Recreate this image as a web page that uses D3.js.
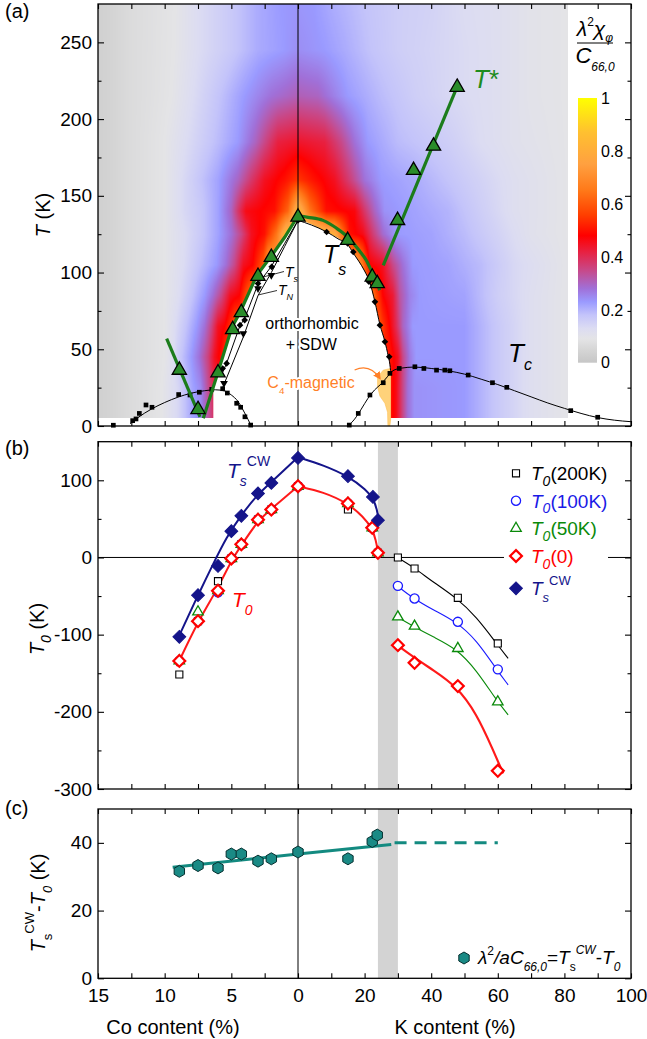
<!DOCTYPE html>
<html><head><meta charset="utf-8">
<script src="https://cdn.jsdelivr.net/npm/d3@7"></script>
<style>
body{margin:0;background:#fff}
svg{display:block}
text{font-family:"Liberation Sans",Arial,Helvetica,sans-serif}
</style></head>
<body><svg id="c" width="647" height="1039"></svg>
<script>
// ---------------- DATA (x: negative = Co content %, positive = K content %) ----------------
const xTicks = [-15,-12.5,-10,-7.5,-5,-2.5,0,10,20,30,40,50,60,70,80,90,100];
const xTickLabels = [-15,-10,-5,0,20,40,60,80,100];
const yATicks = [0,50,100,150,200,250], yAMinor = [25,75,125,175,225];
const yBTicks = [-300,-200,-100,0,100], yBMinor = [-250,-150,-50,50];
const yCTicks = [0,20,40];
const cbTicks = [0,0.2,0.4,0.6,0.8,1];

// colour map of lambda^2 chi / C66,0
const cmapVals = [0,0.05,0.09,0.13,0.18,0.23,0.28,0.35,0.42,0.48,0.56,0.65,0.75,0.87,1];
const cmapCols = ["#c6c6c6","#d6d6d6","#e4e4e6","#dcdcf2","#c4c4fa","#9a9aff","#a070d8","#c84888","#e82040","#ff0000","#ff4000","#ff7818","#ffa040","#ffc030","#ffff00"];

// heat-map rows (temperature) with stops [content, value]
const heatT = [5,25,45,65,85,105,125,140,160,185,215,245,275];
const heatStops = [
 [[-15,0.03],[-12.5,0.065],[-10.2,0.09],[-9,0.14],[-8.5,0.18],[-7.9,0.22],[-7.3,0.25],[-6.8,0.32],[-6.35,0.38],[0,0.4],[27.8,0.5],[29.5,0.46],[31.5,0.35],[33,0.28],[35,0.24],[50,0.23],[60,0.17],[70,0.12],[82,0.09]],
 [[-15,0.03],[-12.5,0.065],[-10.2,0.09],[-9,0.14],[-8.5,0.18],[-7.9,0.22],[-7.3,0.25],[-6.8,0.33],[-6.35,0.4],[0,0.4],[27.8,0.5],[29.5,0.46],[31.5,0.35],[33,0.28],[35,0.24],[50,0.23],[60,0.17],[70,0.12],[82,0.09]],
 [[-15,0.03],[-12.5,0.065],[-10,0.09],[-9.4,0.12],[-9,0.16],[-8,0.23],[-7.4,0.28],[-6.75,0.36],[-6.25,0.45],[-5.75,0.5],[-5.5,0.55],[0,0.55],[27,0.52],[28,0.5],[30,0.45],[31.5,0.35],[33.5,0.27],[35.5,0.23],[50,0.23],[60,0.17],[70,0.12],[82,0.09]],
 [[-15,0.03],[-12.5,0.065],[-10,0.09],[-9.4,0.12],[-8.4,0.18],[-7.6,0.23],[-7,0.28],[-6.5,0.35],[-6,0.45],[-5.5,0.48],[-5,0.55],[-4.75,0.6],[0,0.6],[24.7,0.58],[25.5,0.55],[27.5,0.48],[29.5,0.4],[31.5,0.3],[34.5,0.23],[50,0.23],[60,0.17],[70,0.12],[82,0.09]],
 [[-15,0.03],[-12.5,0.065],[-10,0.09],[-9.1,0.12],[-8.1,0.17],[-7,0.23],[-6.4,0.28],[-5.75,0.35],[-5.1,0.45],[-4.4,0.48],[-3.9,0.58],[-3.5,0.65],[0,0.7],[22.5,0.65],[23.5,0.58],[25.5,0.48],[28.5,0.43],[30.5,0.33],[33.5,0.26],[36.5,0.23],[50,0.22],[60,0.16],[70,0.12],[82,0.09]],
 [[-15,0.03],[-12.5,0.065],[-10,0.09],[-8.6,0.13],[-7.4,0.18],[-6.1,0.23],[-5.4,0.28],[-4.75,0.35],[-4.1,0.45],[-3.4,0.48],[-2.6,0.6],[-2.25,0.75],[0,0.8],[18,0.75],[19.5,0.65],[21.5,0.48],[25.5,0.45],[28.5,0.35],[31.5,0.28],[34.5,0.23],[45,0.22],[55,0.19],[65,0.14],[82,0.09]],
 [[-15,0.03],[-12.5,0.065],[-10,0.09],[-8.5,0.13],[-7.25,0.17],[-6,0.22],[-5,0.28],[-4.25,0.35],[-3.5,0.45],[-2.5,0.5],[-1.6,0.65],[-0.9,0.85],[4,0.9],[11,0.8],[12.5,0.7],[15.5,0.5],[19.5,0.46],[22.5,0.37],[25.5,0.29],[29.5,0.23],[40,0.22],[50,0.19],[60,0.15],[70,0.11],[82,0.09]],
 [[-15,0.03],[-12.5,0.065],[-10,0.09],[-8.5,0.14],[-7.25,0.17],[-6,0.22],[-5,0.3],[-4.5,0.38],[-3.9,0.46],[-1.75,0.5],[-0.75,0.62],[0,0.85],[3.5,0.65],[8.5,0.5],[17,0.47],[20,0.38],[23,0.3],[26,0.24],[35,0.22],[45,0.2],[55,0.16],[65,0.12],[82,0.09]],
 [[-15,0.03],[-12.5,0.065],[-10,0.09],[-8.5,0.14],[-7.25,0.18],[-6,0.22],[-4.5,0.3],[-3.5,0.38],[-2.5,0.45],[-1,0.5],[0,0.55],[5,0.5],[11,0.45],[16,0.36],[20,0.28],[25,0.23],[35,0.21],[45,0.18],[55,0.15],[65,0.12],[82,0.09]],
 [[-15,0.03],[-12.5,0.065],[-10,0.09],[-8,0.14],[-6,0.19],[-4.5,0.23],[-3.2,0.3],[-2.5,0.35],[-1.5,0.42],[0,0.44],[8,0.42],[13,0.35],[17,0.28],[21,0.23],[30,0.19],[45,0.16],[55,0.13],[65,0.11],[82,0.09]],
 [[-15,0.03],[-12.5,0.065],[-9.5,0.09],[-7.5,0.14],[-5.5,0.19],[-4,0.23],[-2,0.28],[0,0.31],[6,0.3],[11,0.26],[15,0.23],[25,0.19],[35,0.16],[45,0.14],[60,0.12],[70,0.1],[82,0.09]],
 [[-15,0.03],[-12.5,0.065],[-9.3,0.09],[-7.5,0.13],[-5,0.17],[-3,0.21],[-1,0.23],[0,0.245],[8,0.23],[14,0.21],[22,0.18],[30,0.16],[45,0.14],[60,0.12],[70,0.1],[82,0.09]],
 [[-15,0.03],[-12.5,0.065],[-9.2,0.09],[-7.5,0.13],[-5,0.17],[-3,0.21],[-1.3,0.23],[0,0.235],[5,0.23],[10,0.21],[20,0.18],[30,0.16],[40,0.15],[50,0.13],[60,0.12],[70,0.1],[82,0.09]]
];

// white orthorhombic + SDW dome and C4 pocket
const domeWhite = [[-6.35,4],[-6.35,27],[-6,35],[-4.95,64.6],[-4.35,74],[-3.1,98],[-1.98,111],[-1,123],[0,135],[4,131.5],[8.6,126.5],[12,122.5],[15,118],[16.6,113],[20,101],[21.5,94],[23.1,81],[24.6,66],[26.1,55],[27.2,45],[27.7,38],[27.8,30],[27.8,4]];
const c4Region = [[23.9,25.6],[23.9,32],[25.6,36.4],[27.8,37.5],[27.8,3.9],[27.6,0.3],[27.0,0.3],[26.9,9],[26.1,14.8],[24.6,19.5]];

// elastic Ts (green triangles) and T*
const triX = [-8.9,-7.5,-6,-4.9,-4.25,-3,-2,0,14.9,22.3,23.8];
const triT = [36.4,10.8,34.7,62.9,74,97.6,110,136.2,121,97.1,92.8];
const tStarX = [29.9,34.7,40.7,47.8];
const tStarT = [134,166.6,182.4,220.8];
const greenV = [[-9.85,57],[-7.35,6]];
const greenLeft = [[-7.1,5],[-6,35],[-4.95,64.6],[-4.35,74],[-3.1,98],[-1.98,111],[-1,123],[0,137]];
const greenRight = [[0,137],[3,136],[7.5,134],[11.5,129],[15.5,122],[18.5,114],[20.5,108],[22.5,99],[23.5,95],[24.5,88.5]];
const tStarLine = [[25.6,104.7],[47.3,218.6]];

// structural / magnetic transitions (literature)
const tsDiaX = [0,-1.97,-3,-4,-4.35,-5.35,-5.65,8.6,14.9,16.6,21.3,23.1,24.6,26.1,27.4];
const tsDiaT = [134,103.7,92.8,69,65.7,40.8,37.5,126.4,118.9,113.4,94,80.9,65.7,54.9,45.1];
const tnX = [-2,-3,-4.1,-5.55];
const tnT = [98.2,89.6,60.3,27.8];
const tsLineCo = [[-5.75,33],[-5.35,41],[-4.35,65.5],[-4,70],[-3,92.5],[-2,104],[-1,119],[0,134]];
const tnLineCo = [[-5.7,24],[-4.1,58],[-3,85],[-2,100],[-1,117],[0,134]];
const tsLineK = [[0,134],[4,131],[8.6,126.5],[12,122],[15,118],[16.5,113],[20,101],[21.5,94],[23.1,81],[24.6,66],[26.1,55],[27.1,45.5],[27.6,40],[27.8,36]];

// superconducting Tc
const tcCoX = [-13.85,-12.4,-12.15,-11.9,-11.4,-10.95,-8.95,-8.1,-7.4,-6.47,-5.65,-5.3,-4.6,-4.3,-3.98,-3.55];
const tcCoT = [0.5,3.5,4.6,8.2,13.7,12.2,20.5,20.2,22,23.9,24.3,21.5,14.8,12.2,6,0.6];
const tcKX = [15.4,18.1,21.6,25.6,27.6,30.4,35.1,37.8,41.6,44.1,45.6,51.1,58.4,62.7,81.9,90];
const tcKT = [0.6,8.2,20.2,28.2,34.3,37.5,38.6,37.5,36.4,36.4,36,33.2,28.2,25.2,10,5.7];
const tcLineCo = [[-12.6,1.5],[-12,5.5],[-11,11],[-10,15.3],[-9,18.8],[-8,21.4],[-7,23],[-6.2,23.6],[-5.5,22.8],[-5,20.2],[-4.5,16],[-4,8.5],[-3.5,0]];
const tcLineK = [[15,0],[17,4.5],[19,11],[21,18],[23,23.5],[25,27.5],[27,32.5],[28.5,36],[31,37.7],[35,38.4],[40,37.5],[45,36],[50,33.8],[55,30.5],[60,27],[65,23],[70,19],[75,15],[80,11.5],[85,8.2],[90,5.5],[95,3.8],[100,2.8]];

// Panel (b)
const bX = [-8.9,-7.5,-6,-5,-4.25,-3,-2,0,15,22.3,24,30,35,48,60];
const t0_200 = [-151.6,-82.5,-30.7,-1.3,17,49,62,92.3,62.2,38.4,6,0,-14.3,-52.3,-111.4];
const t0_100 = [-134,-82.5,-45,-1.3,17,49,62,92.3,70,38.4,6,-36.8,-53.1,-83.4,-145];
const t0_50  = [-134,-70.5,-43,-1.3,17,49,62,92.3,70,38.4,6,-77,-89,-117.9,-187];
const t0_0   = [-134,-82.5,-43,-1.3,17,49,62,92.3,70,38.4,6,-113.6,-136.5,-166.7,-276.4];
const tsCwX = [-8.9,-7.5,-6,-5,-4.25,-3,-2,0,15,22.5,24];
const tsCw  = [-102.8,-48.8,-10.9,34,54,83,96.6,129,105.3,78.5,48.3];
const fitTsCoLeft = [[-8.93,-102],[-7.5,-48.8],[-6.35,-7.8],[-5.35,26.7],[-4.35,52.6],[-3.1,80.7],[-1.98,98],[0,130]];
const fitTsK = [[0,130],[7.6,119.6],[15.1,105.3],[20.6,87.2],[22.6,76.4],[23.8,61.3],[24.2,48.3]];
const fitT0CoLeft = [[-9.1,-141],[-7.5,-82.5],[-6,-40],[-5,-3.6],[-4.25,15.5],[-3,48],[-2,63],[0,92.3]];
const fitT0K = [[0,92.3],[7.6,85],[15.1,70],[19.6,52.6],[22.3,37.6],[23.4,22.4],[24.1,5.2]];
const fitT0_0 = [[29.8,-113.6],[34.6,-128.8],[40.6,-146],[47.6,-166.7],[53.6,-202],[58.6,-249.6],[61.6,-279.8]];
const fitT0_200 = [[29.8,0],[34.6,-12.3],[40.6,-32],[47.6,-52.3],[53.6,-77],[59.6,-111.4],[63.1,-130.8]];
const fitT0_100 = [[29.8,-36.8],[34.6,-53],[40.6,-68],[47.6,-83.4],[53.6,-107],[59.6,-145],[63.1,-165]];
const fitT0_50 = [[29.8,-77],[34.6,-89],[40.6,-103],[47.6,-118],[53.6,-146],[59.6,-185],[63.1,-204]];
const grayBand = [24,30];

// Panel (c)
const cX = [-8.9,-7.5,-6,-5,-4.25,-3,-2,0,15,22.3,23.8];
const cV = [31.6,33.3,32.6,36.7,36.7,34.6,35.3,37.3,35.3,40.4,42.3];
const cFit = [[-9.4,32.8],[0,36.7],[28,39.5]];
const cFitDash = [[29,40],[60,40]];

// ---------------- SCALES ----------------
const x = d3.scaleLinear().domain([-15,0,100]).range([98,298,631]);
const yA = d3.scaleLinear().domain([0,275]).range([426,4]);
const yB = d3.scaleLinear().domain([-300,150]).range([789,441.7]);
const yC = d3.scaleLinear().domain([0,50]).range([978.3,809]);
const yCb = d3.scaleLinear().domain([0,1]).range([362.7,98]);
const cmap = d3.scaleLinear().domain(cmapVals).range(cmapCols).clamp(true);

const svg = d3.select("#c");
const FONT = '"Liberation Sans",Arial,Helvetica,sans-serif';

function rtext(sel, xx, yy, parts, opt={}) {
  const size = opt.size || 19;
  const t = sel.append("text").attr("x", xx).attr("y", yy).attr("font-size", size)
    .attr("fill", opt.fill || "#000").attr("text-anchor", opt.anchor || "start");
  if (opt.halo) t.attr("stroke","#fff").attr("stroke-width",4).attr("paint-order","stroke").attr("stroke-linejoin","round");
  if (opt.transform) t.attr("transform", opt.transform);
  let cur = 0;
  for (const p of parts) {
    const s = p.size || ((p.sub || p.sup) ? size*0.62 : size);
    const off = p.sub ? size*(p.off || 0.32) : p.sup ? -size*(p.off || 0.45) : 0;
    const ts = t.append("tspan").text(p.t).attr("dy", off - cur).attr("font-size", s);
    if (p.i) ts.attr("font-style","italic");
    if (p.dx) ts.attr("dx", p.dx);
    cur = off;
  }
  return t;
}
const lineGen = (y, curve) => d3.line().x(d => x(d[0])).y(d => y(d[1])).curve(curve || d3.curveLinear);
const zip = (xs, ys) => xs.map((v,i) => [v, ys[i]]);

// ---------------- PANEL A : heat map ----------------
const gA = svg.append("g");
{
  const px0 = Math.round(x(-15)), px1 = Math.round(x(81));
  const py0 = Math.round(yA(275)), py1 = Math.round(yA(5));
  const W = px1 - px0, H = py1 - py0;
  const cnv = document.createElement("canvas"); cnv.width = W; cnv.height = H;
  const ctx = cnv.getContext("2d");
  const img = ctx.createImageData(W, H);
  const lut = d3.range(1001).map(i => d3.rgb(cmap(i/1000)));
  const rows = heatT.map((T,k) => {
    const st = heatStops[k];
    const f = d3.scaleLinear().domain(st.map(s => x(s[0]))).range(st.map(s => s[1])).clamp(true);
    return {py: yA(T), vals: d3.range(W).map(i => f(px0 + i + 0.5))};
  }).sort((a,b) => a.py - b.py);
  for (let j = 0; j < H; j++) {
    const py = py0 + j + 0.5;
    let k = 0;
    while (k < rows.length - 2 && rows[k+1].py < py) k++;
    const r0 = rows[k], r1 = rows[k+1];
    let t = (py - r0.py) / (r1.py - r0.py); t = Math.max(0, Math.min(1, t));
    for (let i = 0; i < W; i++) {
      const v = r0.vals[i]*(1-t) + r1.vals[i]*t;
      const c = lut[Math.max(0, Math.min(1000, Math.round(v*1000)))];
      const o = (j*W + i)*4;
      img.data[o] = c.r; img.data[o+1] = c.g; img.data[o+2] = c.b; img.data[o+3] = 255;
    }
  }
  ctx.putImageData(img, 0, 0);
  gA.append("image").attr("x", px0).attr("y", py0).attr("width", W).attr("height", H)
    .attr("preserveAspectRatio","none").attr("href", cnv.toDataURL());
}
gA.append("path").attr("d", lineGen(yA)(domeWhite) + "Z").attr("fill","#fff");
gA.append("path").attr("d", lineGen(yA, d3.curveLinearClosed)(c4Region)).attr("fill","#ffd27a").attr("stroke","#ffc050").attr("stroke-width",0.6);
gA.append("line").attr("x1", x(0)).attr("x2", x(0)).attr("y1", yA(275)).attr("y2", yA(0)).attr("stroke","#000").attr("stroke-width",1);

// text in dome
rtext(gA, x(4.2), yA(63.5), [{t:"orthorhombic"}], {size:16, anchor:"middle", halo:true});
rtext(gA, x(4.0), yA(49.5), [{t:"+ SDW"}], {size:16, anchor:"middle", halo:true});
rtext(gA, x(-2.3), yA(24.5), [{t:"C"},{t:"4",sub:true},{t:"-magnetic"}], {size:16, fill:"#ff7f27", halo:true});
// arrow
svg.append("defs").append("marker").attr("id","arr").attr("viewBox","0 0 10 10").attr("refX",8).attr("refY",5)
  .attr("markerWidth",6).attr("markerHeight",6).attr("orient","auto")
  .append("path").attr("d","M0,0L10,5L0,10Z").attr("fill","#ff7f27");
gA.append("path").attr("d", `M${x(17)},${yA(36.5)} Q${x(21.5)},${yA(41)} ${x(24.6)},${yA(31)}`)
  .attr("fill","none").attr("stroke","#ff7f27").attr("stroke-width",1.3).attr("marker-end","url(#arr)");

// Tc domes
gA.append("path").attr("d", lineGen(yA, d3.curveMonotoneX)(tcLineCo)).attr("fill","none").attr("stroke","#000").attr("stroke-width",1);
gA.append("path").attr("d", lineGen(yA, d3.curveMonotoneX)(tcLineK)).attr("fill","none").attr("stroke","#000").attr("stroke-width",1);
const sq = d3.symbol(d3.symbolSquare, 22)();
gA.selectAll(".tcco").data(zip(tcCoX, tcCoT)).join("path").attr("d", sq)
  .attr("transform", d => `translate(${x(d[0])},${yA(d[1])})`).attr("fill","#000");
gA.selectAll(".tck").data(zip(tcKX, tcKT)).join("path").attr("d", sq)
  .attr("transform", d => `translate(${x(d[0])},${yA(d[1])})`).attr("fill","#000");

// Ts / TN literature
[tsLineCo, tnLineCo].forEach(L => gA.append("path").attr("d", lineGen(yA)(L)).attr("fill","none").attr("stroke","#000").attr("stroke-width",1));
gA.append("path").attr("d", lineGen(yA, d3.curveMonotoneX)(tsLineK)).attr("fill","none").attr("stroke","#000").attr("stroke-width",1);
const dSmall = d3.symbol(d3.symbolSquare, 22)();
gA.selectAll(".tsd").data(zip(tsDiaX, tsDiaT)).join("path").attr("d", dSmall)
  .attr("transform", d => `translate(${x(d[0])},${yA(d[1])}) rotate(45)`).attr("fill","#000");
const tDown = d3.symbol(d3.symbolTriangle, 26)();
gA.selectAll(".tn").data(zip(tnX, tnT)).join("path").attr("d", tDown)
  .attr("transform", d => `translate(${x(d[0])},${yA(d[1])}) rotate(180)`).attr("fill","#000");

// green lines and triangles
const GREEN = "#1c7c1c";
[greenV, greenLeft].forEach(L => gA.append("path").attr("d", lineGen(yA)(L)).attr("fill","none").attr("stroke",GREEN).attr("stroke-width",3.2));
gA.append("path").attr("d", lineGen(yA, d3.curveMonotoneX)(greenRight)).attr("fill","none").attr("stroke",GREEN).attr("stroke-width",3.2);
gA.append("path").attr("d", lineGen(yA)(tStarLine)).attr("fill","none").attr("stroke",GREEN).attr("stroke-width",3.2);
const triBig = d3.symbol(d3.symbolTriangle, 88)();
gA.selectAll(".gtri").data(zip(triX, triT).concat(zip(tStarX, tStarT))).join("path").attr("d", triBig)
  .attr("transform", d => `translate(${x(d[0])},${yA(d[1])})`)
  .attr("fill","#2a8c2a").attr("stroke","#000").attr("stroke-width",1.3);

// labels panel a
rtext(gA, 473, 88, [{t:"T",i:true},{t:"*"}], {size:26, fill:"#1e8c1e"});
rtext(gA, 323, 263, [{t:"T",i:true},{t:"s",sub:true,i:true,off:0.48,size:16}], {size:25});
rtext(gA, 508, 362, [{t:"T",i:true},{t:"c",sub:true,i:true,off:0.32,size:16}], {size:26});
rtext(gA, 285, 277, [{t:"T",i:true},{t:"s",sub:true,i:true,off:0.35,size:9}], {size:14});
rtext(gA, 278, 295, [{t:"T",i:true},{t:"N",sub:true,i:true,off:0.35,size:9}], {size:14});
gA.append("line").attr("x1",263).attr("y1",277).attr("x2",284).attr("y2",271.5).attr("stroke","#000").attr("stroke-width",0.8);
gA.append("line").attr("x1",258).attr("y1",295).attr("x2",277).attr("y2",290.5).attr("stroke","#000").attr("stroke-width",0.8);

// colour bar
{
  const grad = svg.select("defs").append("linearGradient").attr("id","cbg").attr("x1",0).attr("y1",1).attr("x2",0).attr("y2",0);
  cmapVals.forEach((v,i) => grad.append("stop").attr("offset", v).attr("stop-color", cmapCols[i]));
  gA.append("rect").attr("x",578).attr("width",19).attr("y",yCb(1)).attr("height",yCb(0)-yCb(1)).attr("fill","url(#cbg)");
  cbTicks.forEach(v => gA.append("text").attr("x",601).attr("y",yCb(v)).attr("dy","0.36em").attr("font-size",16).text(String(v)));
  rtext(gA, 595, 36, [{t:"λ",i:true},{t:"2",sup:true,off:0.5,size:12},{t:"χ",i:true},{t:"φ",sub:true,i:true,off:0.3,size:12}], {size:21, anchor:"middle"});
  gA.append("line").attr("x1",577).attr("x2",613).attr("y1",43).attr("y2",43).attr("stroke","#000").attr("stroke-width",1);
  rtext(gA, 595, 63, [{t:"C",i:true},{t:"66,0",sub:true,i:true,off:0.38,size:12}], {size:22, anchor:"middle"});
}

// ---------------- PANEL B ----------------
const gB = svg.append("g");
gB.append("rect").attr("x", x(grayBand[0])).attr("width", x(grayBand[1]) - x(grayBand[0]))
  .attr("y", yB(150)).attr("height", yB(-300) - yB(150)).attr("fill","#d3d3d3");
gB.append("line").attr("x1", x(0)).attr("x2", x(0)).attr("y1", yB(150)).attr("y2", yB(-300)).attr("stroke","#000");
gB.append("line").attr("x1", x(-15)).attr("x2", x(100)).attr("y1", yB(0)).attr("y2", yB(0)).attr("stroke","#000");
const smooth = d3.curveBasis;
const fits = [
  [fitT0_200, "#000", 1.1], [fitT0_100, "#1a1aff", 1.1], [fitT0_50, "#0a8a0a", 1.1],
  [fitT0_0, "#ff1a1a", 2.2], [fitT0CoLeft, "#ff1a1a", 2], [fitT0K, "#ff1a1a", 2],
  [fitTsCoLeft, "#14148a", 2], [fitTsK, "#14148a", 2]
];
fits.forEach(([L,c,w]) => gB.append("path").attr("d", lineGen(yB, smooth)(L)).attr("fill","none").attr("stroke",c).attr("stroke-width",w));
const symSq = d3.symbol(d3.symbolSquare, 50)();
const symCi = d3.symbol(d3.symbolCircle, 66)();
const symTr = d3.symbol(d3.symbolTriangle, 48)();
const symDi = d3.symbol(d3.symbolSquare, 70)();
const symDiF = d3.symbol(d3.symbolSquare, 82)();
function pts(g, xs, ys, sym, rot, fill, stroke, sw, y) {
  g.append("g").selectAll("path").data(zip(xs, ys)).join("path").attr("d", sym)
    .attr("transform", d => `translate(${x(d[0])},${y(d[1])})` + (rot ? ` rotate(${rot})` : ""))
    .attr("fill", fill).attr("stroke", stroke).attr("stroke-width", sw);
}
pts(gB, bX, t0_200, symSq, 0, "#fff", "#000", 1.1, yB);
pts(gB, bX, t0_100, symCi, 0, "#fff", "#1a1aff", 1.3, yB);
pts(gB, bX, t0_50, symTr, 0, "#fff", "#0a8a0a", 1.3, yB);
pts(gB, bX, t0_0, symDi, 45, "#fff", "#ff0000", 2.2, yB);
pts(gB, tsCwX, tsCw, symDiF, 45, "#14148a", "#14148a", 1, yB);
rtext(gB, 227, 478, [{t:"T",i:true},{t:"s",sub:true,i:true,off:0.4,size:14},{t:"CW",sup:true,off:0.55,size:14}], {size:21, fill:"#14148a"});
rtext(gB, 232, 607, [{t:"T",i:true},{t:"0",sub:true,i:true,off:0.38,size:14}], {size:21, fill:"#ff0000"});
// legend
gB.append("rect").attr("x",504).attr("y",460).attr("width",104).attr("height",140).attr("fill","#fff");
const legY = [473.3, 500.7, 528.3, 556, 588.3];
const legItems = [
  [symSq, 0, "#fff", "#000", 1.1, "(200K)", "#000"],
  [symCi, 0, "#fff", "#1a1aff", 1.3, "(100K)", "#1a1ae6"],
  [symTr, 0, "#fff", "#0a8a0a", 1.3, "(50K)", "#0a8a0a"],
  [symDi, 45, "#fff", "#ff0000", 2.2, "(0)", "#ff0000"],
  [symDiF, 45, "#14148a", "#14148a", 1, null, "#14148a"]
];
legItems.forEach((it, k) => {
  gB.append("path").attr("d", it[0]).attr("transform", `translate(516,${legY[k]})` + (it[1] ? ` rotate(${it[1]})` : ""))
    .attr("fill", it[2]).attr("stroke", it[3]).attr("stroke-width", it[4]);
  if (it[5]) rtext(gB, 531, legY[k] + 6.8, [{t:"T",i:true},{t:"0",sub:true,i:true,off:0.3,size:14},{t:it[5]}], {size:19, fill:it[6]});
  else rtext(gB, 531, legY[k] + 6.8, [{t:"T",i:true},{t:"s",sub:true,i:true,off:0.35,size:13},{t:"CW",sup:true,off:0.55,size:13}], {size:19, fill:it[6]});
});

// ---------------- PANEL C ----------------
const gC = svg.append("g");
gC.append("rect").attr("x", x(grayBand[0])).attr("width", x(grayBand[1]) - x(grayBand[0]))
  .attr("y", yC(50)).attr("height", yC(0) - yC(50)).attr("fill","#d3d3d3");
gC.append("line").attr("x1", x(0)).attr("x2", x(0)).attr("y1", yC(50)).attr("y2", yC(0)).attr("stroke","#000");
const TEAL = "#138a80";
gC.append("path").attr("d", lineGen(yC)(cFit)).attr("fill","none").attr("stroke",TEAL).attr("stroke-width",3);
gC.append("path").attr("d", lineGen(yC)(cFitDash)).attr("fill","none").attr("stroke",TEAL).attr("stroke-width",3).attr("stroke-dasharray","12,8");
const hexR = 6;
const hexPath = d3.range(6).map(k => { const a = Math.PI/2 + k*Math.PI/3; return [hexR*Math.cos(a), hexR*Math.sin(a)]; });
const hexD = "M" + hexPath.map(p => p.join(",")).join("L") + "Z";
pts(gC, cX, cV, hexD, 0, "#1a8a85", "#063030", 1, yC);
gC.append("path").attr("d", hexD).attr("transform","translate(464,958)").attr("fill","#1a8a85").attr("stroke","#063030").attr("stroke-width",1);
rtext(gC, 478, 964, [{t:"λ",i:true},{t:"2",sup:true,off:0.5,size:12},{t:"/aC",i:true},{t:"66,0",sub:true,i:true,off:0.38,size:12},
  {t:"="},{t:"T",i:true},{t:"s",sub:true,off:0.35,size:12},{t:"CW",sup:true,i:true,off:0.55,size:12},{t:"-"},{t:"T",i:true},{t:"0",sub:true,i:true,off:0.35,size:12}], {size:19});

// ---------------- AXES & FRAMES ----------------
function frameAxes(y, yMajor, yMinor, labelsX) {
  const g = svg.append("g").attr("font-family", FONT);
  const [yb, yt] = y.range();
  const fmtX = d => xTickLabels.includes(d) ? String(Math.abs(d)) : "";
  g.append("g").attr("transform",`translate(0,${yb})`)
    .call(d3.axisBottom(x).tickValues(xTicks).tickSize(-5).tickPadding(10).tickFormat(labelsX ? fmtX : () => ""));
  g.append("g").attr("transform",`translate(0,${yt})`).call(d3.axisTop(x).tickValues(xTicks).tickSize(-5).tickFormat(() => ""));
  g.append("g").attr("transform",`translate(${x(-15)},0)`).call(d3.axisLeft(y).tickValues(yMajor).tickSize(-6).tickPadding(6).tickFormat(d => String(d)));
  g.append("g").attr("transform",`translate(${x(-15)},0)`).call(d3.axisLeft(y).tickValues(yMinor).tickSize(-3.5).tickFormat(() => ""));
  g.append("g").attr("transform",`translate(${x(100)},0)`).call(d3.axisRight(y).tickValues(yMajor).tickSize(-6).tickFormat(() => ""));
  g.append("g").attr("transform",`translate(${x(100)},0)`).call(d3.axisRight(y).tickValues(yMinor).tickSize(-3.5).tickFormat(() => ""));
  g.selectAll(".domain").remove();
  g.selectAll(".tick line").attr("stroke","#000").attr("stroke-width",1.1);
  g.selectAll(".tick text").attr("font-size",19).attr("font-family",FONT).attr("fill","#000");
  g.append("rect").attr("x", x(-15)).attr("y", yt).attr("width", x(100) - x(-15)).attr("height", yb - yt)
    .attr("fill","none").attr("stroke","#000").attr("stroke-width",1.3);
}
frameAxes(yA, yATicks, yAMinor, false);
frameAxes(yB, yBTicks, yBMinor, false);
frameAxes(yC, yCTicks, [], true);

// panel letters and axis titles
svg.append("text").attr("x",5).attr("y",18).attr("font-size",20).text("(a)");
svg.append("text").attr("x",5).attr("y",455).attr("font-size",20).text("(b)");
svg.append("text").attr("x",5).attr("y",815).attr("font-size",20).text("(c)");
rtext(svg, 0, 0, [{t:"T",i:true},{t:" (K)"}], {size:20, anchor:"middle", transform:"translate(50,215) rotate(-90)"});
rtext(svg, 0, 0, [{t:"T",i:true},{t:"0",sub:true,i:true,off:0.35,size:14},{t:" (K)"}], {size:20, anchor:"middle", transform:"translate(44,629) rotate(-90)"});
rtext(svg, 0, 0, [{t:"T",i:true},{t:"s",sub:true,off:0.35,size:13},{t:"CW",sup:true,off:0.55,size:13},{t:"-"},{t:"T",i:true},{t:"0",sub:true,i:true,off:0.35,size:13},{t:" (K)"}],
  {size:20, anchor:"middle", transform:"translate(45,903) rotate(-90)"});
svg.append("text").attr("x",173).attr("y",1034).attr("font-size",20).attr("text-anchor","middle").text("Co content (%)");
svg.append("text").attr("x",455).attr("y",1034).attr("font-size",20).attr("text-anchor","middle").text("K content (%)");
</script></body></html>
